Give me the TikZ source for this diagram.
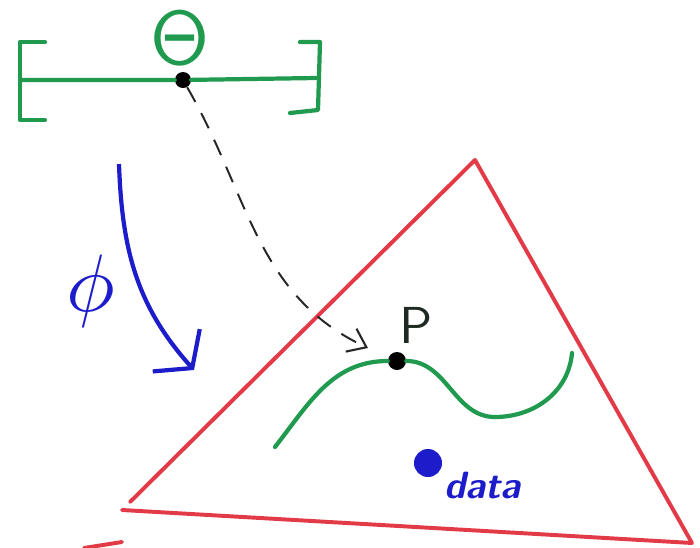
\documentclass[tikz,border=0pt]{standalone}
\usepackage{tikz}
\usetikzlibrary{arrows.meta}
\definecolor{paramc}{HTML}{1F9A4E}
\definecolor{simplexc}{HTML}{E23A46}
\definecolor{mapc}{HTML}{1C1CCB}
\definecolor{pointc}{HTML}{1E2A22}
\tikzset{
  interval/.style={draw=paramc, line width=3pt, line cap=round, line join=round},
  model/.style={draw=paramc, line width=3pt, line cap=round},
  simplex/.style={draw=simplexc, line width=2.8pt, line cap=round, line join=round},
  pt/.style={circle, fill=black, inner sep=0pt, minimum size=#1},
  pt/.default=0.45cm,
  datapt/.style={circle, fill=mapc, inner sep=0pt, minimum size=0.7cm},
  lift/.style={-{Straight Barb[length=12pt,width=18pt,line width=1.5pt]}, line width=1.4pt,
               dash pattern=on 12pt off 9pt, draw=black!85},
  param/.style={-{Straight Barb[length=17pt,width=45pt,line width=3pt]}, draw=mapc, line width=3pt},
  bigsym/.style={scale=#1, transform shape, inner sep=0pt},
}
\begin{document}
\begin{tikzpicture}[x=0.025cm, y=-0.025cm]
  \useasboundingbox (0,0) rectangle (700,548);
  % parameter interval
  \draw[interval] (45,42) -- (20,42) -- (20,120) -- (45,120);
  \draw[interval] (300,42) -- (320,42) -- (318,110) -- (290,113);
  \node[pt=0.4cm] (theta) at (183,80) {};
  \draw[interval] (22,80) -- (theta) -- (316,78);
  \node[bigsym=5.4, text=paramc] (thetalabel) at (180,38) {$\mathsf{\Theta}$};
  % simplex
  \coordinate (s1) at (122,510);
  \coordinate (s1b) at (130,502);
  \coordinate (s2) at (475,160);
  \coordinate (s3) at (692,543);
  \draw[simplex] (s1) -- (s3) -- (s2) -- (s1b);
  \coordinate (t1) at (84,548);
  \coordinate (t2) at (122,542);
  \draw[simplex] (t1) -- (t2);
  % model curve
  \node[pt] (p) at (397,361) {};
  \coordinate (m0) at (275,447);
  \coordinate (m1) at (495,417);
  \coordinate (m2) at (572,353);
  \draw[model] (m0) to[out=52,in=180] (p) to[out=0,in=180] (m1) to[out=0,in=-95] (m2);
  \node[bigsym=3.7, text=pointc, font=\sffamily] (plabel) at (416,325) {P};
  \coordinate (ptip) at (368,348);
  \draw[lift] (theta) to[out=-60,in=155] (ptip);
  % map phi
  \coordinate (phistart) at (119,164);
  \coordinate (phiend) at (194,370);
  \draw[param] (phistart) to[out=-88,in=132] (phiend);
  \node[bigsym=5.8, text=mapc] (philabel) at (91,291) {$\phi$};
  % data
  \node[datapt] (data) at (428,463) {};
  \node[font=\fontsize{27}{27}\sffamily\bfseries\itshape, text=mapc, anchor=west, inner sep=0pt] (datalabel) at (444,486) {data};
\end{tikzpicture}
\end{document}
